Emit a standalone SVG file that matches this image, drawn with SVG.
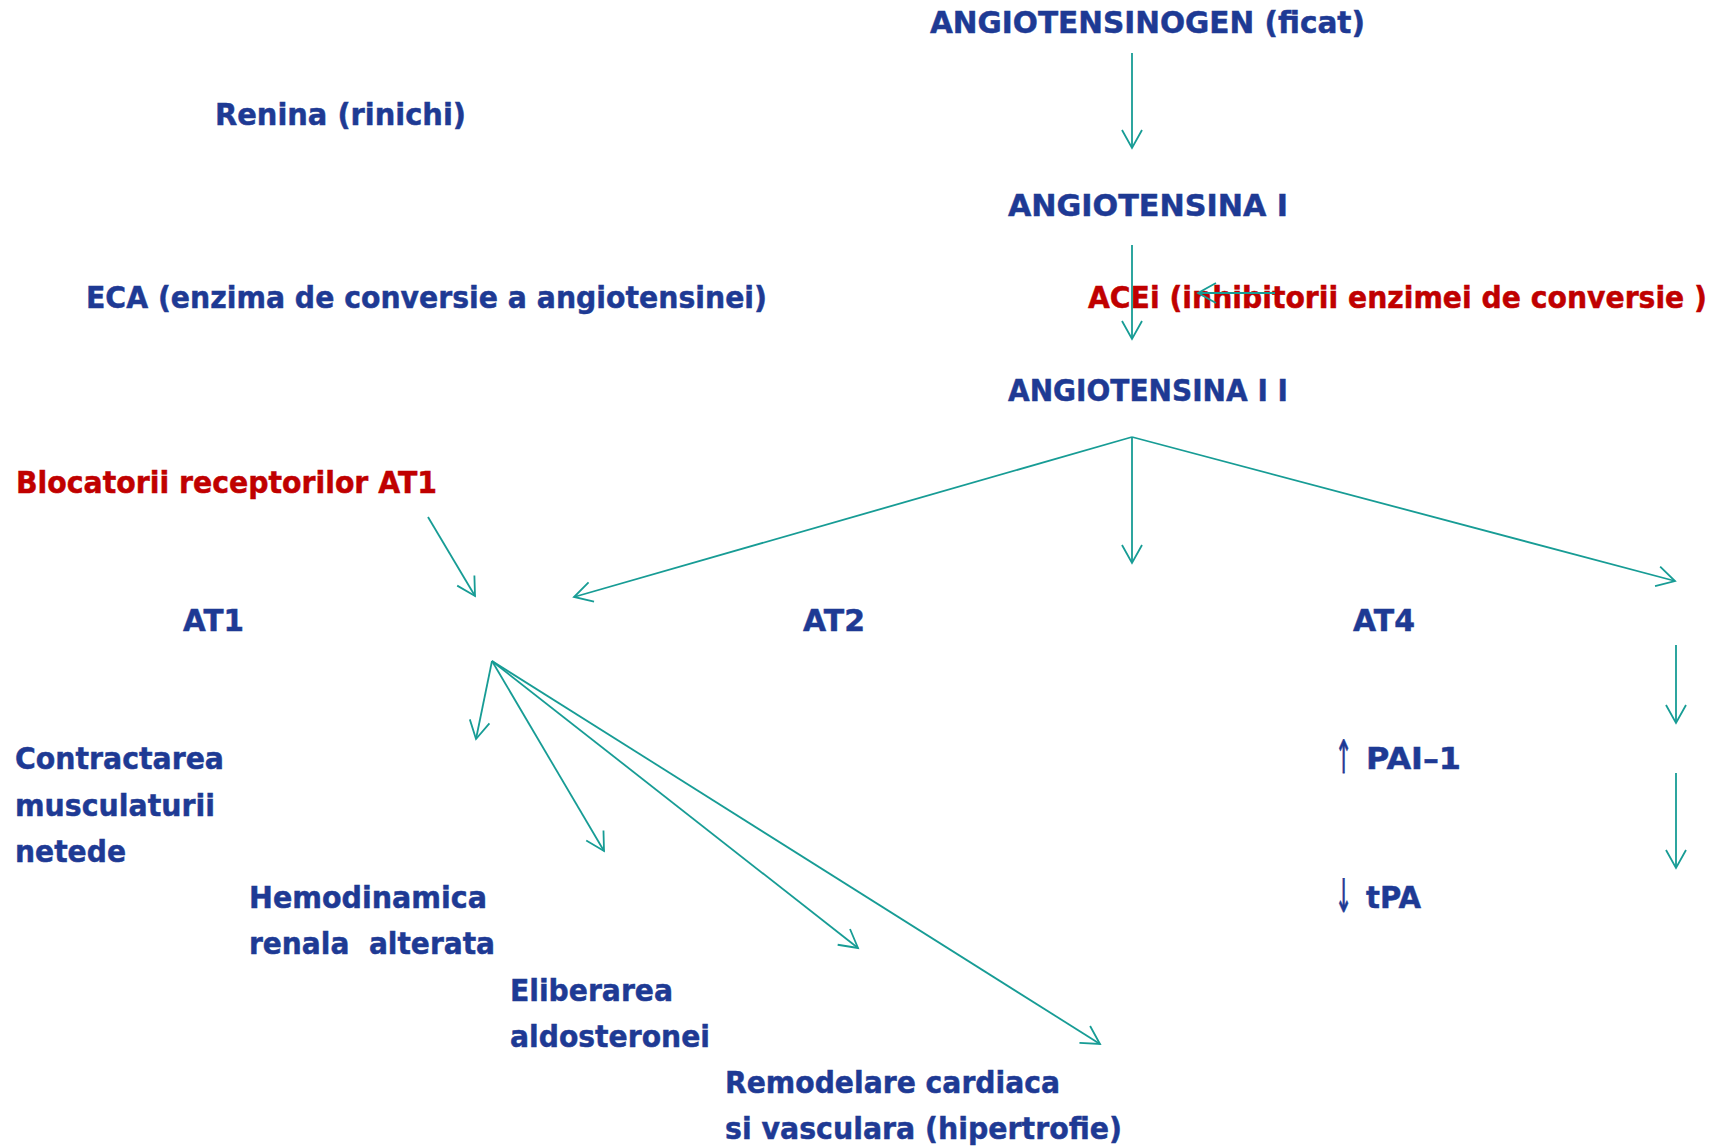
<svg xmlns="http://www.w3.org/2000/svg" width="1714" height="1146" viewBox="0 0 1714 1146">
  <style>
    .t { font-family: "DejaVu Sans", "Liberation Sans", sans-serif; font-weight: bold; font-size: 31px; fill: #1E3A94; stroke: #1E3A94; stroke-width: 0.5; }
    .r { fill: #C00000; stroke: #C00000; }
    .sym { font-family: "DejaVu Sans", sans-serif; font-weight: normal; font-size: 46px; fill: #1E3A94; stroke: #1E3A94; stroke-width: 0.8; }
    .c { stroke: #179C95; stroke-width: 1.8; fill: none; marker-end: url(#ah); }
  </style>
  <defs>
    <marker id="ah" markerUnits="userSpaceOnUse" viewBox="-22 -13 26 26" refX="0" refY="0" markerWidth="26" markerHeight="26" orient="auto">
      <path d="M-18,-10 L0,0 L-18,10" fill="none" stroke="#179C95" stroke-width="1.8"/>
    </marker>
  </defs>
  <rect width="1714" height="1146" fill="#FFFFFF"/>

  <g id="n-angiotensinogen"><text class="t" x="930" y="33" textLength="435" lengthAdjust="spacingAndGlyphs">ANGIOTENSINOGEN (ficat)</text></g>
  <g id="n-renina"><text class="t" x="215" y="125" textLength="251" lengthAdjust="spacingAndGlyphs">Renina (rinichi)</text></g>
  <g id="n-angiotensina1"><text class="t" x="1008" y="216" textLength="280" lengthAdjust="spacingAndGlyphs">ANGIOTENSINA I</text></g>
  <g id="n-eca"><text class="t" x="86" y="308" textLength="681" lengthAdjust="spacingAndGlyphs">ECA (enzima de conversie a angiotensinei)</text></g>
  <g id="n-acei"><text class="t r" transform="translate(1088,308) scale(0.912,1)" x="0" y="0">ACEi (inhibitorii enzimei de conversie )</text></g>
  <g id="n-angiotensina2"><text class="t" x="1008" y="401" textLength="280" lengthAdjust="spacingAndGlyphs">ANGIOTENSINA I I</text></g>
  <g id="n-blocatorii"><text class="t r" x="16" y="493" textLength="421" lengthAdjust="spacingAndGlyphs">Blocatorii receptorilor AT1</text></g>
  <g id="n-at1"><text class="t" x="183" y="631" textLength="61" lengthAdjust="spacingAndGlyphs">AT1</text></g>
  <g id="n-at2"><text class="t" x="803" y="631" textLength="62" lengthAdjust="spacingAndGlyphs">AT2</text></g>
  <g id="n-at4"><text class="t" x="1353" y="631" textLength="62" lengthAdjust="spacingAndGlyphs">AT4</text></g>
  <g id="n-contractarea">
    <text class="t" x="15" y="769" textLength="209" lengthAdjust="spacingAndGlyphs">Contractarea</text>
    <text class="t" x="15" y="816" textLength="200" lengthAdjust="spacingAndGlyphs">musculaturii</text>
    <text class="t" x="15" y="862" textLength="111" lengthAdjust="spacingAndGlyphs">netede</text>
  </g>
  <g id="n-hemodinamica">
    <text class="t" x="249" y="908" textLength="238" lengthAdjust="spacingAndGlyphs">Hemodinamica</text>
    <text class="t" x="249" y="954" textLength="246" lengthAdjust="spacingAndGlyphs" xml:space="preserve">renala  alterata</text>
  </g>
  <g id="n-eliberarea">
    <text class="t" x="510" y="1001" textLength="163" lengthAdjust="spacingAndGlyphs">Eliberarea</text>
    <text class="t" x="510" y="1047" textLength="200" lengthAdjust="spacingAndGlyphs">aldosteronei</text>
  </g>
  <g id="n-remodelare">
    <text class="t" x="725" y="1093" textLength="335" lengthAdjust="spacingAndGlyphs">Remodelare cardiaca</text>
    <text class="t" x="725" y="1139" textLength="397" lengthAdjust="spacingAndGlyphs">si vasculara (hipertrofie)</text>
  </g>
  <g id="n-pai1">
    <text class="sym" transform="translate(1335,773) scale(0.45,1)" x="0" y="0">↑</text>
    <text class="t" x="1366" y="769" textLength="95" lengthAdjust="spacingAndGlyphs">PAI–1</text>
  </g>
  <g id="n-tpa">
    <text class="sym" transform="translate(1335,912) scale(0.45,1)" x="0" y="0">↓</text>
    <text class="t" x="1366" y="908" textLength="55" lengthAdjust="spacingAndGlyphs">tPA</text>
  </g>

  <g id="connectors">
    <line class="c" x1="1132" y1="53" x2="1132" y2="148"/>
    <line class="c" x1="1132" y1="245" x2="1132" y2="339"/>
    <line class="c" x1="1275" y1="293" x2="1198" y2="293"/>
    <line class="c" x1="1132" y1="437" x2="574" y2="597"/>
    <line class="c" x1="1132" y1="437" x2="1132" y2="563"/>
    <line class="c" x1="1132" y1="437" x2="1675" y2="581"/>
    <line class="c" x1="428" y1="517" x2="475" y2="596"/>
    <line class="c" x1="1676" y1="645" x2="1676" y2="723"/>
    <line class="c" x1="1676" y1="773" x2="1676" y2="868"/>
    <line class="c" x1="492" y1="661" x2="476" y2="739"/>
    <line class="c" x1="492" y1="661" x2="604" y2="851"/>
    <line class="c" x1="492" y1="661" x2="858" y2="948"/>
    <line class="c" x1="492" y1="661" x2="1100" y2="1044"/>
  </g>
</svg>
